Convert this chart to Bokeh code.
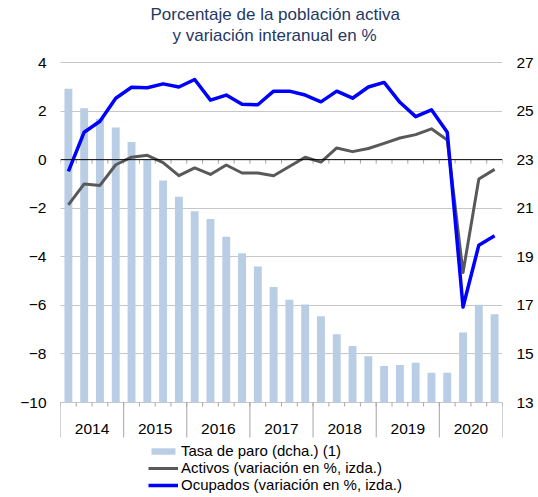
from bokeh.plotting import figure
from bokeh.models import (Range1d, LinearAxis, FixedTicker, Span, Legend, LegendItem,
                          Title, Label, Grid)
from bokeh.embed import file_html
from bokeh.resources import INLINE

# ---------------- data ----------------
years = ["2014", "2015", "2016", "2017", "2018", "2019", "2020"]
quarters = [f"{y}T{q}" for y in years for q in range(1, 5)]

# Tasa de paro (right axis, %)
tasa_paro = [25.92, 25.12, 24.68, 24.32, 23.73, 23.00, 22.14, 21.47,
             20.88, 20.56, 19.83, 19.15, 18.60, 17.76, 17.23, 17.04,
             16.55, 15.81, 15.33, 14.90, 14.50, 14.54, 14.64, 14.23,
             14.23, 15.88, 17.03, 16.63]
# Activos (variación en %, izda.)
activos = [-1.86, -1.00, -1.06, -0.21, 0.10, 0.18, -0.12, -0.66,
           -0.34, -0.61, -0.22, -0.55, -0.55, -0.66, -0.28, 0.10,
           -0.10, 0.48, 0.33, 0.46, 0.67, 0.89, 1.03, 1.27,
           0.81, -4.65, -0.80, -0.40]
# Ocupados (variación en %, izda.)
ocupados = [-0.48, 1.13, 1.58, 2.53, 2.98, 2.96, 3.12, 2.99,
            3.30, 2.45, 2.66, 2.28, 2.26, 2.82, 2.82, 2.66,
            2.38, 2.82, 2.53, 2.99, 3.18, 2.36, 1.77, 2.05,
            1.13, -6.07, -3.52, -3.13]

left_ticks = [-10, -8, -6, -4, -2, 0, 2, 4]
right_ticks = [13, 15, 17, 19, 21, 23, 25, 27]

FONT = "Liberation Sans"
TICK_GRAY = "#A6A6A6"
PX_PER_UNIT = 340 / (left_ticks[-1] - left_ticks[0])   # frame scale of the value axes

n = len(quarters)
xs = [i + 0.5 for i in range(n)]
q_bounds = list(range(n + 1))
y_bounds = [4 * i for i in range(len(years) + 1)]
y_centers = [4 * i + 2 for i in range(len(years))]

# the frame is extended below the value range (category axis + legend)
# and a little above it (breathing room under the title)
y_lo = left_ticks[0] - 91 / PX_PER_UNIT
y_hi = left_ticks[-1] + 18 / PX_PER_UNIT
shift = right_ticks[0] - left_ticks[0]

p = figure(width=538, height=497, x_range=Range1d(0, n),
           y_range=Range1d(y_lo, y_hi),
           x_axis_type=None, y_axis_type=None,
           output_backend="svg", toolbar_location=None,
           min_border_left=60, min_border_right=36,
           min_border_top=44, min_border_bottom=4)
p.title = None
p.outline_line_color = None
p.background_fill_color = "white"
p.border_fill_color = "white"
p.extra_y_ranges = {"right": Range1d(y_lo + shift, y_hi + shift)}

# grid (dotted, without the zero line)
grid = Grid(dimension=1, ticker=FixedTicker(ticks=[t for t in left_ticks if t != 0]),
            grid_line_color="#8C8C8C", grid_line_dash="1 1", grid_line_width=1)
p.add_layout(grid)

# bars
bars = p.vbar(x=xs, top=tasa_paro, bottom=right_ticks[0], width=0.5,
              y_range_name="right", fill_color="#B9CDE5", line_color=None)

# zero line with quarter ticks
p.add_layout(Span(location=0, dimension="width", line_color="black", line_width=1))
p.segment(x0=q_bounds, y0=0, x1=q_bounds, y1=-4 / PX_PER_UNIT,
          line_color=TICK_GRAY, line_width=1)

# category axis at the bottom: quarter ticks and year separators
base = left_ticks[0]
p.segment(x0=q_bounds, y0=base, x1=q_bounds, y1=base - 4 / PX_PER_UNIT,
          line_color=TICK_GRAY, line_width=1)
p.segment(x0=y_bounds, y0=base, x1=y_bounds, y1=base - 35 / PX_PER_UNIT,
          line_color=TICK_GRAY, line_width=1)
for yc, yr in zip(y_centers, years):
    p.add_layout(Label(x=yc, y=base - 26 / PX_PER_UNIT, text=yr,
                       text_align="center", text_baseline="middle",
                       text_font=FONT, text_font_size="15.5px", text_color="black"))

# lines
l_act = p.line(xs, activos, line_color="#595959", line_width=3, line_join="round")
l_ocu = p.line(xs, ocupados, line_color="#0000FF", line_width=3.5, line_join="round")

# value axes
left = LinearAxis(ticker=FixedTicker(ticks=left_ticks))
right = LinearAxis(ticker=FixedTicker(ticks=right_ticks), y_range_name="right")
for ax in (left, right):
    ax.axis_line_color = None
    ax.major_tick_line_color = None
    ax.minor_tick_line_color = None
    ax.major_tick_out = 0
    ax.major_tick_in = 0
    ax.major_label_standoff = 14
    ax.major_label_text_font = FONT
    ax.major_label_text_font_size = "15.5px"
    ax.major_label_text_color = "black"
p.add_layout(left, "left")
p.add_layout(right, "right")

# legend
legend = Legend(items=[LegendItem(label="Tasa de paro (dcha.) (1)", renderers=[bars]),
                       LegendItem(label="Activos (variación en %, izda.)", renderers=[l_act]),
                       LegendItem(label="Ocupados (variación en %, izda.)", renderers=[l_ocu])],
                location=(88, 0), orientation="vertical",
                border_line_color=None, background_fill_alpha=0,
                label_text_font=FONT, label_text_font_size="15px", label_text_color="black",
                glyph_width=30, glyph_height=8, label_height=16, spacing=0,
                padding=0, margin=0, label_standoff=3)
p.add_layout(legend)

# title (two lines)
t2 = Title(text="y variación interanual en %", align="left", offset=112,
           text_font=FONT, text_font_size="17px", text_font_style="normal",
           text_color="#1F3864", standoff=0, text_line_height=1.1)
t1 = Title(text="Porcentaje de la población activa", align="left", offset=90,
           text_font=FONT, text_font_size="17px", text_font_style="normal",
           text_color="#1F3864", standoff=0, text_line_height=1.1)
p.add_layout(t2, "above")
p.add_layout(t1, "above")

open("out.html", "w").write(file_html(p, INLINE))
